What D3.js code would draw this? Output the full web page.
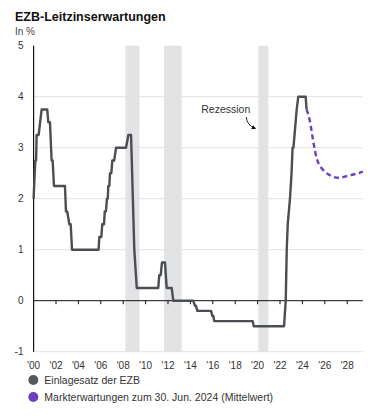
<!DOCTYPE html>
<html><head><meta charset="utf-8">
<script src="https://cdn.jsdelivr.net/npm/d3@7"></script>
<style>
html,body{margin:0;padding:0;background:#fff;}
svg{display:block;font-family:"Liberation Sans",Arial,sans-serif;}
</style></head>
<body><svg id="c" width="368" height="419"></svg>
<script>
// ---- data ----
const title = "EZB-Leitzinserwartungen";
const unitLabel = "In %";
const rateYears = [0.00,0.15,0.22,0.27,0.45,0.72,1.22,1.31,1.46,1.61,1.70,1.82,2.80,2.89,3.00,3.19,3.31,3.43,5.80,5.87,6.05,6.13,6.29,6.35,6.46,6.55,6.62,6.67,6.76,6.82,6.94,7.03,7.20,7.36,8.25,8.46,8.70,8.99,9.21,11.13,11.22,11.35,11.46,11.73,11.88,12.33,12.47,14.25,14.41,14.50,14.62,15.84,15.96,16.05,16.13,19.56,19.65,22.36,22.51,22.60,22.69,22.89,23.03,23.12,23.20,23.49,23.63,24.29,24.37];
const rateValues = [2.00,2.75,2.75,3.25,3.25,3.75,3.75,3.50,3.50,2.75,2.75,2.25,2.25,1.75,1.75,1.50,1.50,1.00,1.00,1.25,1.25,1.50,1.50,1.75,1.75,2.00,2.00,2.25,2.25,2.50,2.50,2.75,2.75,3.00,3.00,3.25,3.25,1.00,0.25,0.25,0.50,0.50,0.75,0.75,0.25,0.25,0.00,0.00,-0.10,-0.10,-0.20,-0.20,-0.30,-0.30,-0.40,-0.40,-0.50,-0.50,0.00,1.00,1.50,2.00,2.50,3.00,3.00,3.75,4.00,4.00,3.75];
const expYears = [24.37,24.68,24.97,25.28,25.87,26.46,27.20,28.25,29.14,29.40];
const expValues = [3.75,3.51,3.12,2.79,2.56,2.46,2.41,2.46,2.51,2.53];
const recessionStart = [8.20,11.64,20.06];
const recessionEnd = [9.45,13.22,20.96];
const yTicks = [5,4,3,2,1,0,-1];
const xTicks = [0,2,4,6,8,10,12,14,16,18,20,22,24,26,28];
const xTickLabels = ["'00","'02","'04","'06","'08","'10","'12","'14","'16","'18","'20","'22","'24","'26","'28"];
const legendLabels = ["Einlagesatz der EZB","Markterwartungen zum 30. Jun. 2024 (Mittelwert)"];
const annotationText = "Rezession";

// ---- drawing ----
const colGrey = "#4b4e52", colPurple = "#6a3fc3";
const svg = d3.select("#c");
const x = d3.scaleLinear().domain([0,29.4]).range([33.6,362.9]);
const y = d3.scaleLinear().domain([-1,5]).range([351.7,45.7]);

svg.append("text").attr("x",15).attr("y",20.7).attr("font-size",12.5).attr("font-weight","bold")
  .attr("fill","#111").text(title);
svg.append("text").attr("x",15).attr("y",34.5).attr("font-size",10).attr("fill","#444").text(unitLabel);

// recession bands
svg.append("g").selectAll("rect").data(d3.zip(recessionStart,recessionEnd)).join("rect")
  .attr("x",d=>x(d[0])).attr("width",d=>x(d[1])-x(d[0]))
  .attr("y",y(5)).attr("height",y(-1)-y(5)).attr("fill","#e2e3e5");

// gridlines
svg.append("g").selectAll("line").data(yTicks.filter(v=>v!==0 && v!==5)).join("line")
  .attr("x1",x(0)).attr("x2",x(29.4)).attr("y1",d=>y(d)).attr("y2",d=>y(d))
  .attr("stroke","#e3e3e3").attr("stroke-width",1);

// y labels
svg.append("g").selectAll("text").data(yTicks).join("text")
  .attr("x",23.5).attr("y",d=>y(d)+3.5).attr("text-anchor","end")
  .attr("font-size",10).attr("fill","#333").text(d=>d);

// zero line + x ticks
svg.append("line").attr("x1",x(0)).attr("x2",x(29.4)).attr("y1",y(0)).attr("y2",y(0))
  .attr("stroke","#111").attr("stroke-width",1);
svg.append("g").selectAll("line").data(xTicks.slice(1)).join("line")
  .attr("x1",d=>x(d)).attr("x2",d=>x(d)).attr("y1",y(0)).attr("y2",y(0)+3.5)
  .attr("stroke","#111").attr("stroke-width",1);
// y axis line
svg.append("line").attr("x1",x(0)).attr("x2",x(0)).attr("y1",y(5)).attr("y2",y(-1))
  .attr("stroke","#111").attr("stroke-width",1.2);

// x labels
svg.append("g").selectAll("text").data(d3.zip(xTicks,xTickLabels)).join("text")
  .attr("x",d=>x(d[0])).attr("y",368.5).attr("text-anchor","middle")
  .attr("font-size",10).attr("fill","#333").text(d=>d[1]);

// lines
const line = d3.line().x(d=>x(d[0])).y(d=>y(d[1]));
svg.append("path").datum(d3.zip(rateYears,rateValues)).attr("d",line)
  .attr("fill","none").attr("stroke",colGrey).attr("stroke-width",2.4).attr("stroke-linejoin","round");
svg.append("path").datum(d3.zip(expYears,expValues)).attr("d",line.curve(d3.curveMonotoneX))
  .attr("fill","none").attr("stroke",colPurple).attr("stroke-width",2.4).attr("stroke-dasharray","5,3.5");

// annotation
svg.append("text").attr("x",x(20.06)-8).attr("y",113).attr("text-anchor","end")
  .attr("font-size",10.5).attr("fill","#333").text(annotationText);
svg.append("defs").append("marker").attr("id","ah").attr("viewBox","0 0 10 10")
  .attr("refX",8).attr("refY",5).attr("markerWidth",5).attr("markerHeight",5).attr("orient","auto")
  .append("path").attr("d","M0,0L10,5L0,10z").attr("fill","#111");
svg.append("path").attr("d",`M${x(20.06)-12},117 Q${x(20.06)-11.5},125 ${x(20.06)-3},128.5`)
  .attr("fill","none").attr("stroke","#111").attr("stroke-width",0.9).attr("marker-end","url(#ah)");

// legend
const lg = svg.append("g").selectAll("g").data(legendLabels).join("g")
  .attr("transform",(d,i)=>`translate(33.3,${380+i*17})`);
lg.append("circle").attr("r",5).attr("fill",(d,i)=>i?colPurple:"#55585c");
lg.append("text").attr("x",11).attr("y",3.8).attr("font-size",10.5).attr("fill","#333").text(d=>d);
</script></body></html>
